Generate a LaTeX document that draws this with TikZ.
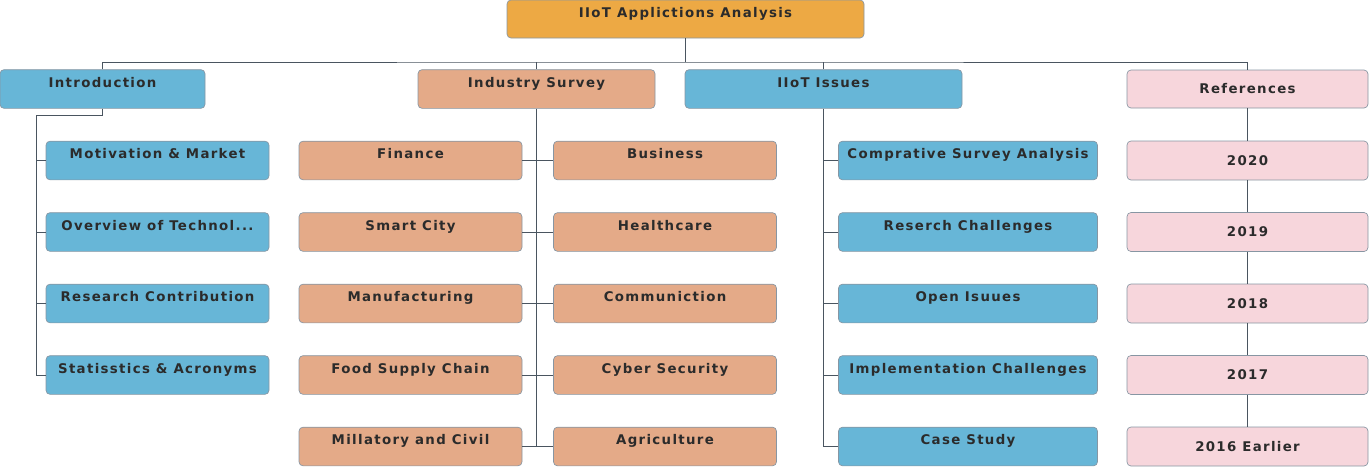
\documentclass[tikz,border=0pt]{standalone}
\usepackage{fontspec}
\setmainfont{DejaVu Sans}
\newfontfamily\boxfont[LetterSpace=10]{DejaVu Sans}
\usepackage{xcolor}
\usetikzlibrary{positioning,fit}

\definecolor{rootorange}{HTML}{EDA944}
\definecolor{skyblue}{HTML}{67B6D7}
\definecolor{salmon}{HTML}{E4AA88}
\definecolor{softpink}{HTML}{F7D6DC}
\definecolor{edgegray}{HTML}{8796A3}
\definecolor{linkgray}{HTML}{4A5560}
\definecolor{inkgray}{HTML}{2B2B2B}

\tikzset{
  box/.style={draw=edgegray, line width=0.5pt, rounded corners=3pt,
    font=\boxfont\bfseries\fontsize{10}{12}\selectfont, text=inkgray,
    inner xsep=2pt, align=center},
  topbox/.style={box, inner ysep=0pt, text height=13pt, text depth=16pt},
  midbox/.style={box, minimum height=29.25pt},
  link/.style={draw=linkgray, line width=0.6pt}
}

\begin{document}
\begin{tikzpicture}[x=0.75pt,y=-0.75pt]
\useasboundingbox (0,0) rectangle (1370,468);

% top level
\node[topbox, fill=rootorange, minimum width=267.75pt, text depth=15.5pt] (root) at (685.5,19) {IIoT Applictions Analysis};
\node[topbox, fill=skyblue, minimum width=153.75pt] (intro) at (102.5,89) {Introduction};
\node[topbox, fill=salmon, minimum width=177.75pt] (indsurvey) at (536.5,89) {Industry Survey};
\node[topbox, fill=skyblue, minimum width=207.75pt] (issues) at (823.5,89) {IIoT Issues};
\node[midbox, fill=softpink, minimum width=180.75pt, minimum height=28.5pt] (refs) at (1247.5,89) {References};

\coordinate (bus) at (685.5,62);
\draw[link] (root.south) -- (bus);
\draw[link] (intro.north) |- (bus) -| (refs.north);
\draw[link] (indsurvey.north) -- (indsurvey.north |- bus);
\draw[link] (issues.north) -- (issues.north |- bus);

% introduction
\begin{scope}[every node/.style={topbox, fill=skyblue, minimum width=167.25pt}]
  \node (motiv) at (157.5,160.5) {Motivation \& Market};
  \node (overview) at (157.5,232) {Overview of Technol...};
  \node (contrib) at (157.5,303.5) {Research Contribution};
  \node (stats) at (157.5,375) {Statisstics \& Acronyms};
\end{scope}
\coordinate (introspine) at (36,115);
\draw[link] (intro.south) |- (introspine) |- (stats.west);
\foreach \n in {motiv,overview,contrib}
  \draw[link] (\n.west) -- (\n.west -| introspine);

% industry survey
\begin{scope}[every node/.style={topbox, fill=salmon, minimum width=167.25pt}]
  \node (finance) at (410.5,160.5) {Finance};
  \node (smartcity) at (410.5,232) {Smart City};
  \node (manuf) at (410.5,303.5) {Manufacturing};
  \node (food) at (410.5,375) {Food Supply Chain};
  \node (military) at (410.5,446.5) {Millatory and Civil};
  \node (business) at (665,160.5) {Business};
  \node (health) at (665,232) {Healthcare};
  \node (comm) at (665,303.5) {Communiction};
  \node (cyber) at (665,375) {Cyber Security};
  \node (agri) at (665,446.5) {Agriculture};
\end{scope}
\draw[link] (indsurvey.south) -- (indsurvey.south |- military.east);
\foreach \l/\r in {finance/business,smartcity/health,manuf/comm,food/cyber,military/agri}
  \draw[link] (\l.east) -- (\r.west);

% iiot issues
\begin{scope}[every node/.style={topbox, fill=skyblue, minimum width=194.25pt}]
  \node (compsurvey) at (968,160.5) {Comprative Survey Analysis};
  \node (challenges) at (968,232) {Reserch Challenges};
  \node (openissues) at (968,303.5) {Open Isuues};
  \node (implement) at (968,375) {Implementation Challenges};
  \node (casestudy) at (968,446.5) {Case Study};
\end{scope}
\draw[link] (issues.south) -- (issues.south |- casestudy.west) -- (casestudy.west);
\foreach \n in {compsurvey,challenges,openissues,implement}
  \draw[link] (\n.west) -- (\n.west -| issues.south);

% references
\begin{scope}[every node/.style={midbox, fill=softpink, minimum width=180.75pt}]
  \node (y2020) at (1247.5,160.5) {2020};
  \node (y2019) at (1247.5,232) {2019};
  \node (y2018) at (1247.5,303.5) {2018};
  \node (y2017) at (1247.5,375) {2017};
  \node (y2016) at (1247.5,446.5) {2016 Earlier};
\end{scope}
\draw[link] (refs) -- (y2020) -- (y2019) -- (y2018) -- (y2017) -- (y2016);
\end{tikzpicture}
\end{document}
